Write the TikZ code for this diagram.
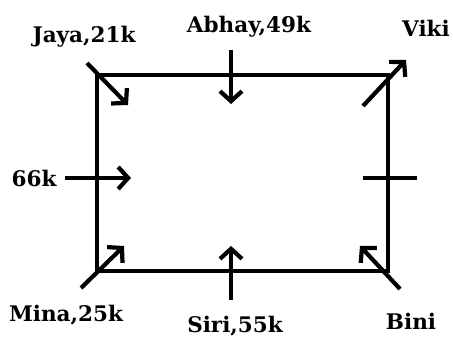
\documentclass[tikz,border=0pt]{standalone}
\usepackage{fontspec}
\setmainfont{DejaVu Serif}
\usetikzlibrary{arrows.meta}
\begin{document}
\begin{tikzpicture}[x=1pt,y=-1pt,
  edge/.style={line width=4.2pt},
  arr/.style={line width=4.2pt,-{Straight Barb[length=10pt,width=22pt,line width=4.2pt]}},
  lbl/.style={font=\bfseries\fontsize{21.5}{24}\selectfont,inner sep=0pt}]
\useasboundingbox (0,0) rectangle (453,337);
% corners
\coordinate (tl) at (97,75);
\coordinate (tr) at (388,75);
\coordinate (bl) at (97,271);
\coordinate (br) at (388,271);
\draw[edge,line cap=rect] (tl) -- (tr) -- (br) -- (bl) -- cycle;
% labels
\node[lbl] (jaya) at (84,37) {Jaya,21k};
\node[lbl] (abhay) at (249,27) {Abhay,49k};
\node[lbl] (viki) at (426,28) {Viki};
\node[lbl] (sixsix) at (34,178) {66k};
\node[lbl] (mina) at (66,315) {Mina,25k};
\node[lbl] (siri) at (235,326) {Siri,55k};
\node[lbl] (bini) at (411,321) {Bini};
% arrow endpoints
\coordinate (j1) at (87,63);  \coordinate (j2) at (128,105);
\coordinate (a1) at (231,50); \coordinate (a2) at (231,104);
\coordinate (v1) at (363,106); \coordinate (v2) at (406,60);
\coordinate (s1) at (65,178); \coordinate (s2) at (131,178);
\coordinate (m1) at (81,288); \coordinate (m2) at (124,246);
\coordinate (r1) at (231,300); \coordinate (r2) at (231,246);
\coordinate (b1) at (400,289); \coordinate (b2) at (360,246);
\coordinate (t1) at (363,178); \coordinate (t2) at (417,178);
\draw[arr] (j1) -- (j2);
\draw[arr] (a1) -- (a2);
\draw[arr] (v1) -- (v2);
\draw[arr] (s1) -- (s2);
\draw[arr] (m1) -- (m2);
\draw[arr] (r1) -- (r2);
\draw[arr] (b1) -- (b2);
\draw[edge] (t1) -- (t2);
\end{tikzpicture}
\end{document}
